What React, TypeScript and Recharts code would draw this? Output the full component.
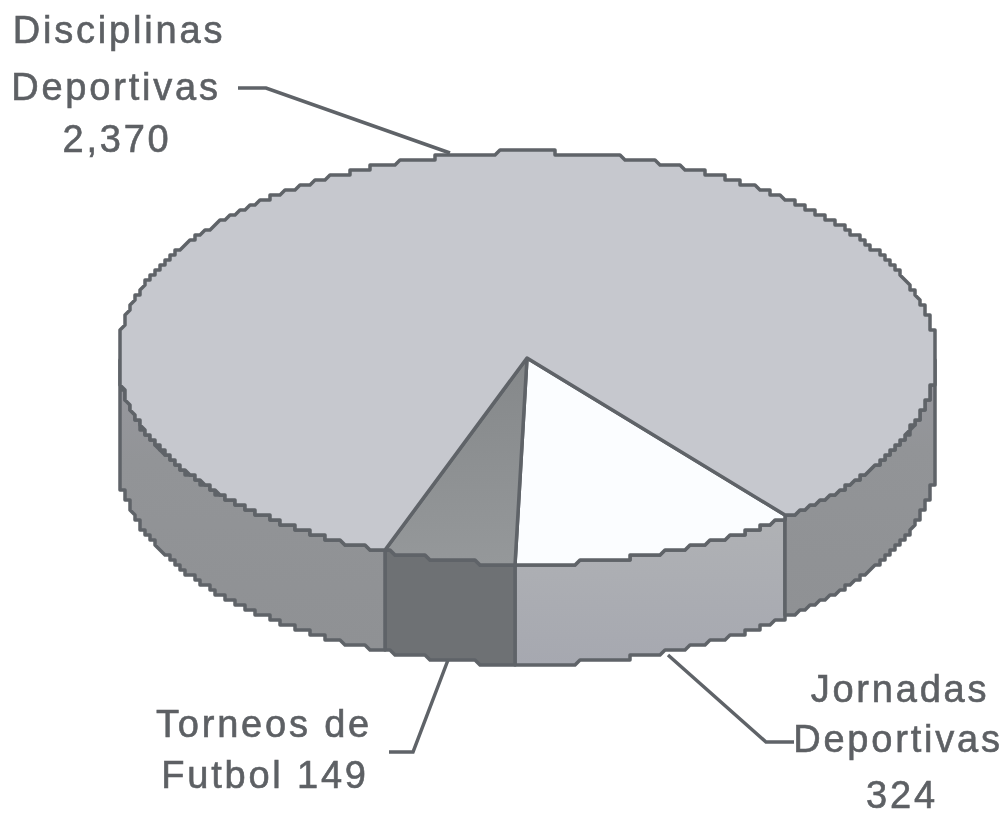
import React from 'react';
import { PieChart, Pie, Cell } from 'recharts';

const categories = ['Jornadas Deportivas', 'Torneos de Futbol', 'Disciplinas Deportivas'];
const values = [324, 149, 2370];
const labelLines = [
  ['Jornadas', 'Deportivas', '324'],
  ['Torneos de', 'Futbol 149'],
  ['Disciplinas', 'Deportivas', '2,370'],
];
const topColors = ['#fbfdff', 'url(#torneosTop)', '#c6c8ce'];
const wallColors = ['url(#jornadasWall)', '#6e7174', 'url(#disciplinasWall)'];

const chartData = categories.map((name, i) => ({ name, value: values[i] }));

const CX = 527;
const CY = 358;
const RX = 409;
const RY = 206;
const DEPTH = 100;
const LINE = '#5f6368';
const GRID = 5;

// text positions: [x, baseline] per line, and leader line points
const labelLayout = [
  { lines: [[900, 702], [898, 752], [902, 808]], leader: '668,655 766,742 794,742' },
  { lines: [[264, 737], [265, 788]], leader: '389,752 413,752 448,660' },
  { lines: [[119, 43], [116, 100], [117, 152]], leader: '238,88 266,88 450,153' },
];

const rad = (deg: number) => (deg * Math.PI) / 180;
const snap = (v: number) => Math.round(v / GRID) * GRID;

// rim of the tilted disc, stepped like the low-res original
const rim = (from: number, to: number, dy = 0) => {
  const n = Math.max(2, Math.ceil(Math.abs(to - from) * 2));
  const pts: string[] = [];
  for (let i = 0; i <= n; i++) {
    const a = rad(from + ((to - from) * i) / n);
    pts.push(`${snap(CX + RX * Math.cos(a))},${snap(CY - RY * Math.sin(a)) + dy}`);
  }
  return pts;
};

const TopFace = (props: any) => {
  const { startAngle, endAngle, fill } = props;
  const d = `M${CX},${CY} L${rim(startAngle, endAngle).join(' L')} Z`;
  return <path d={d} fill={fill} stroke={LINE} strokeWidth={3.5} strokeLinejoin="round" />;
};

// only the part of a slice facing the viewer (-180..0, also -540..-360) gets a wall
const WallFace = (props: any) => {
  const { startAngle, endAngle, fill } = props;
  const hi = Math.max(startAngle, endAngle);
  const lo = Math.min(startAngle, endAngle);
  const pieces: number[][] = [];
  [[-180, 0], [-540, -360]].forEach(([a, b]) => {
    const from = Math.max(lo, a);
    const to = Math.min(hi, b);
    if (to > from) pieces.push([from, to]);
  });
  return (
    <g>
      {pieces.map(([from, to]) => {
        const d = `M${rim(from, to).join(' L')} L${rim(to, from, DEPTH).join(' L')} Z`;
        return <path key={from} d={d} fill={fill} stroke={LINE} strokeWidth={3.5} strokeLinejoin="round" />;
      })}
    </g>
  );
};

const renderLabel = (props: any) => {
  const { index } = props;
  const layout = labelLayout[index];
  return (
    <g key={index}>
      <polyline points={layout.leader} fill="none" stroke={LINE} strokeWidth={3.5} />
      {labelLines[index].map((line, i) => (
        <text
          key={line}
          x={layout.lines[i][0]}
          y={layout.lines[i][1]}
          textAnchor="middle"
          fontFamily="'Liberation Sans', Arial, sans-serif"
          fontSize={38}
          letterSpacing={2.8}
          fill="#5d6064"
          stroke="#5d6064"
          strokeWidth={0.6}
        >
          {line}
        </text>
      ))}
    </g>
  );
};

export default function App() {
  return (
    <div
      style={{
        position: 'absolute',
        left: 0,
        top: 0,
        width: 1005,
        height: 815,
        background: '#fff',
        filter: 'blur(0.6px)',
      }}
    >
      <PieChart width={1005} height={815} margin={{ top: 0, right: 0, bottom: 0, left: 0 }}>
        <defs>
          <linearGradient id="torneosTop" x1="0" y1="0" x2="0" y2="1">
            <stop offset="0%" stopColor="#85888a" />
            <stop offset="100%" stopColor="#95989a" />
          </linearGradient>
          <linearGradient id="jornadasWall" x1="0" y1="0" x2="0" y2="1">
            <stop offset="0%" stopColor="#b0b2b5" />
            <stop offset="100%" stopColor="#a6a8b0" />
          </linearGradient>
          <linearGradient id="disciplinasWall" x1="0" y1="0" x2="0" y2="1">
            <stop offset="0%" stopColor="#98989f" />
            <stop offset="35%" stopColor="#929497" />
            <stop offset="100%" stopColor="#8f9194" />
          </linearGradient>
        </defs>
        <Pie
          data={chartData}
          dataKey="value"
          nameKey="name"
          cx={CX}
          cy={CY}
          outerRadius={RX}
          startAngle={-50.5}
          endAngle={-410.5}
          stroke="none"
          shape={WallFace}
          isAnimationActive={false}
        >
          {chartData.map((entry, index) => (
            <Cell key={`wall-${entry.name}`} fill={wallColors[index]} />
          ))}
        </Pie>
        <Pie
          data={chartData}
          dataKey="value"
          nameKey="name"
          cx={CX}
          cy={CY}
          outerRadius={RX}
          startAngle={-50.5}
          endAngle={-410.5}
          stroke="none"
          shape={TopFace}
          label={renderLabel}
          labelLine={false}
          isAnimationActive={false}
        >
          {chartData.map((entry, index) => (
            <Cell key={`top-${entry.name}`} fill={topColors[index]} />
          ))}
        </Pie>
      </PieChart>
    </div>
  );
}
